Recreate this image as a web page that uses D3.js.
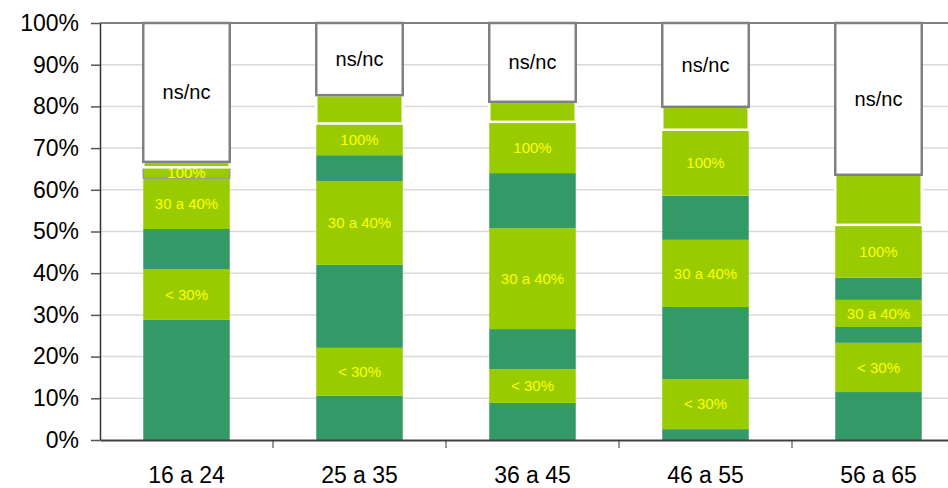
<!DOCTYPE html>
<html>
<head>
<meta charset="utf-8">
<script src="https://cdn.jsdelivr.net/npm/d3@7"></script>
<style>
  html, body { margin: 0; padding: 0; background: #fff; overflow: hidden; }
  svg { display: block; font-family: "Liberation Sans", Arial, sans-serif; }
</style>
</head>
<body>
<svg id="chart" width="948" height="488"></svg>
<script>
// ---- data ----
const categories = ["16 a 24", "25 a 35", "36 a 45", "46 a 55", "56 a 65"];
const seriesKeys = ["s1", "s2", "s3", "s4", "s5", "s6", "s7", "nsnc"];
const seriesLabels = ["", "< 30%", "", "30 a 40%", "", "100%", "", "ns/nc"];
const s1 = [28.8, 10.6, 8.9, 2.6, 11.5];
const s2 = [12.2, 11.5, 8.1, 12.0, 11.8];
const s3 = [9.6, 19.9, 9.6, 17.3, 3.8];
const s4 = [12.2, 20.1, 24.2, 16.1, 6.5];
const s5 = [0, 6.2, 13.2, 10.6, 5.3];
const s6 = [2.6, 7.6, 12.3, 15.8, 12.7];
const s7 = [1.3, 6.8, 4.8, 5.5, 12.0];
const nsnc = [33.3, 17.3, 18.9, 20.1, 36.4];
const yTicks = [0, 0.1, 0.2, 0.3, 0.4, 0.5, 0.6, 0.7, 0.8, 0.9, 1.0];

const seriesValues = [s1, s2, s3, s4, s5, s6, s7, nsnc];
const rows = categories.map((c, i) => {
  const r = { cat: c };
  seriesKeys.forEach((k, j) => r[k] = seriesValues[j][i] / 100);
  return r;
});

// ---- layout ----
const svg = d3.select("#chart");
const mLeft = 100, mRight = 965, mTop = 23, mBottom = 440;
const x = d3.scaleBand().domain(categories).range([mLeft, mRight])
  .paddingInner(0.5).paddingOuter(0.25);
const y = d3.scaleLinear().domain([0, 1]).range([mBottom, mTop]);

const DARK = "#339966", LIGHT = "#99CC00";
const fills = [DARK, LIGHT, DARK, LIGHT, DARK, LIGHT, LIGHT, "#ffffff"];

// gridlines
svg.append("g").selectAll("line").data(yTicks.filter(t => t > 0 && t < 1)).join("line")
  .attr("x1", mLeft).attr("x2", 948)
  .attr("y1", d => y(d)).attr("y2", d => y(d))
  .attr("stroke", "#d9d9d9").attr("stroke-width", 1.5);

// top border
svg.append("line").attr("x1", mLeft).attr("x2", 948)
  .attr("y1", y(1)).attr("y2", y(1))
  .attr("stroke", "#808080").attr("stroke-width", 2);

// stacked bars
const stack = d3.stack().keys(seriesKeys)(rows);
const layers = svg.append("g").selectAll("g").data(stack).join("g");
layers.each(function(layer, li) {
  const g = d3.select(this);
  g.selectAll("rect").data(layer.filter(d => d[1] - d[0] > 0)).join("rect")
    .attr("x", d => x(d.data.cat))
    .attr("width", x.bandwidth())
    .attr("y", d => y(d[1]))
    .attr("height", d => y(d[0]) - y(d[1]))
    .attr("fill", fills[li])
    .attr("stroke", d => {
      if (layer.key === "nsnc") return "#808080";
      if (layer.key === "s7") return "#ffffff";
      if (layer.key === "s6" && d.data.cat === categories[0]) return "#999999";
      return "none";
    })
    .attr("stroke-width", d => {
      if (layer.key === "nsnc") return 2.5;
      if (layer.key === "s7") return 2.5;
      return 1.5;
    });
});

// labels
layers.each(function(layer, li) {
  const lbl = seriesLabels[li];
  if (!lbl) return;
  const g = d3.select(this);
  const isNs = layer.key === "nsnc";
  g.selectAll("text").data(layer.filter(d => d[1] - d[0] > 0)).join("text")
    .attr("x", d => x(d.data.cat) + x.bandwidth() / 2)
    .attr("y", d => (y(d[0]) + y(d[1])) / 2)
    .attr("dy", "0.35em")
    .attr("text-anchor", "middle")
    .attr("font-size", isNs ? 20 : 15)
    .attr("fill", isNs ? "#000000" : "#FFFF00")
    .text(lbl);
});

// y axis
const yAxis = svg.append("g").attr("transform", `translate(${mLeft},0)`)
  .call(d3.axisLeft(y).tickValues(yTicks).tickFormat(d3.format(".0%"))
    .tickSizeInner(9).tickSizeOuter(0).tickPadding(12));
yAxis.select(".domain").attr("stroke", "#333").attr("stroke-width", 1.5);
yAxis.selectAll(".tick line").attr("stroke", "#555").attr("stroke-width", 1.5);
yAxis.selectAll(".tick text").attr("font-size", 23).attr("fill", "#000")
  .attr("font-family", "Liberation Sans, Arial, sans-serif");

// x axis
const xAxis = svg.append("g").attr("transform", `translate(0,${mBottom})`)
  .call(d3.axisBottom(x).tickSize(0).tickPadding(27));
xAxis.select(".domain").attr("stroke", "#404040").attr("stroke-width", 2);
xAxis.selectAll(".tick text").attr("font-size", 23).attr("fill", "#000")
  .attr("font-family", "Liberation Sans, Arial, sans-serif");
// separator ticks at category boundaries
const step = x.step();
const bounds = categories.slice(0, -1).map(c => x(c) + x.bandwidth() / 2 + step / 2);
svg.append("g").selectAll("line").data(bounds).join("line")
  .attr("x1", d => d).attr("x2", d => d)
  .attr("y1", mBottom).attr("y2", mBottom + 8)
  .attr("stroke", "#333").attr("stroke-width", 1);
</script>
</body>
</html>
